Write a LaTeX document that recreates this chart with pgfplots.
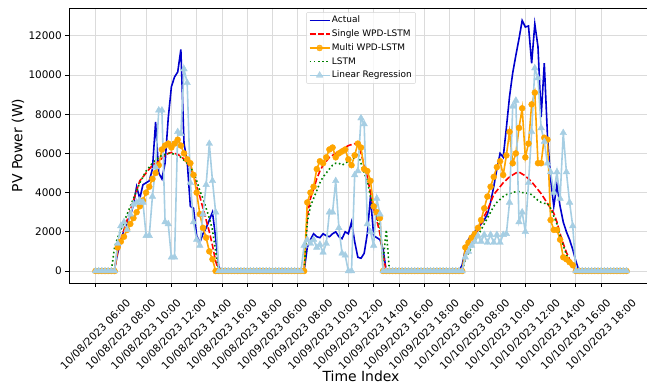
\documentclass[border=0pt]{standalone}
\usepackage{pgfplots}
\pgfplotsset{compat=1.18}
\usepackage{pgfplotstable}
\usepackage{fontspec}
\setmainfont{DejaVu Sans}
\definecolor{cA}{RGB}{0,0,205}
\definecolor{cS}{RGB}{255,0,0}
\definecolor{cM}{RGB}{255,165,0}
\definecolor{cL}{RGB}{0,128,0}
\definecolor{cR}{RGB}{166,206,227}
\pgfplotstableread{
u A S M L R
0 0 0 0 0 0
1 0 0 0 0 0
2 0 0 0 0 0
3 0 0 0 0 0
4 0 0 0 0 0
5 0 0 0 0 0
6 100 0 0 1200 0
7 900 1000 1200 1700 1400
8 1500 1600 1500 2100 2300
9 2100 2100 1750 2500 2500
10 2400 2600 2100 2900 2100
11 2800 3100 2400 3300 2900
12 3400 3600 2700 3700 3400
13 4300 4100 3000 4100 3500
14 3700 4600 3300 4500 3600
15 4400 4800 3600 4800 3500
16 4500 5000 4000 5100 1800
17 4600 5200 4300 5300 1800
18 5200 5400 4700 5500 3800
19 7600 5500 5000 5650 5300
20 5000 5600 5400 5800 8200
21 4700 5750 6200 5900 8200
22 5500 5900 6400 5950 2500
23 7800 6000 6500 6000 2400
24 9400 6050 6300 6000 700
25 9900 6000 6500 5950 700
26 10150 5950 6700 5900 7100
27 11300 5850 6400 5800 7000
28 6500 5700 6000 5650 10300
29 5600 5500 5700 5500 9600
30 3300 5300 5500 5300 4500
31 3200 4900 4900 5000 2500
32 1800 4300 4000 4600 1600
33 1450 3800 2900 4100 1300
34 1900 3200 2200 3700 2900
35 2200 2600 1700 3200 4400
36 2600 2000 1000 2700 6500
37 3000 1300 600 2100 4600
38 1700 500 0 1000 3000
39 200 0 0 0 0
40 0 0 0 0 0
41 0 0 0 0 0
42 0 0 0 0 0
43 0 0 0 0 0
44 0 0 0 0 0
45 0 0 0 0 0
46 0 0 0 0 0
47 0 0 0 0 0
48 0 0 0 0 0
49 0 0 0 0 0
50 0 0 0 0 0
51 0 0 0 0 0
52 0 0 0 0 0
53 0 0 0 0 0
54 0 0 0 0 0
55 0 0 0 0 0
56 0 0 0 0 0
57 0 0 0 0 0
58 0 0 0 0 0
59 0 0 0 0 0
60 0 0 0 0 0
61 0 0 0 0 0
62 0 0 0 0 0
63 0 0 0 0 0
64 0 0 0 0 0
65 0 0 0 0 0
66 0 0 0 0 1300
67 1200 2800 3500 2500 1600
68 1600 3700 4000 3300 1400
69 1900 4200 4300 3700 1600
70 1750 4700 5200 4100 1200
71 1700 5100 5600 4500 1350
72 1900 5400 5500 4800 950
73 1800 5600 5800 5000 1400
74 1750 5800 6200 5200 3000
75 1900 5900 6300 5400 3000
76 2000 6000 5800 5500 4600
77 1750 6100 6000 5500 2200
78 1650 6200 6100 5400 900
79 2000 6300 6200 5500 800
80 1900 6400 5700 5600 0
81 2500 6450 5400 5700 0
82 1500 6500 5900 5800 4900
83 700 6450 6500 6000 5100
84 650 6000 6300 5500 7800
85 900 5400 5200 5000 7500
86 1900 4800 5100 4600 2400
87 3800 4000 4600 3800 2000
88 1800 3200 3300 3100 1300
89 1700 2600 3000 2700 3700
90 1600 1900 2700 2300 2900
91 1100 800 0 500 0
92 0 0 0 2100 0
93 0 0 0 0 0
94 0 0 0 0 0
95 0 0 0 0 0
96 0 0 0 0 0
97 0 0 0 0 0
98 0 0 0 0 0
99 0 0 0 0 0
100 0 0 0 0 0
101 0 0 0 0 0
102 0 0 0 0 0
103 0 0 0 0 0
104 0 0 0 0 0
105 0 0 0 0 0
106 0 0 0 0 0
107 0 0 0 0 0
108 0 0 0 0 0
109 0 0 0 0 0
110 0 0 0 0 0
111 0 0 0 0 0
112 0 0 0 0 0
113 0 0 0 0 0
114 0 0 0 0 0
115 0 0 0 0 0
116 300 0 0 0 0
117 1100 700 1200 600 700
118 1600 1100 1450 900 1000
119 1800 1400 1700 1200 1300
120 2000 1700 1900 1500 1500
121 2200 2100 2200 1800 1800
122 2400 2400 2600 2100 1500
123 2600 2800 3200 2400 1850
124 2900 3100 3800 2700 1450
125 3500 3500 4300 3000 1850
126 4300 3900 4800 3300 1450
127 5200 4100 5300 3500 1850
128 6000 4300 5600 3650 1450
129 5800 4500 4900 3800 1850
130 7300 4650 5900 3900 1900
131 8900 4800 7100 3950 3500
132 10100 4900 5500 4000 8400
133 11000 5000 6000 4050 8700
134 11850 5050 7300 4050 2500
135 12780 4950 8300 4000 3000
136 12450 4850 5800 4000 2000
137 12500 4700 6500 3950 4500
138 10600 4550 8500 3900 7100
139 12600 4350 9100 3750 10350
140 11450 4150 5500 3600 9850
141 7850 3950 5500 3500 7300
142 10600 3700 6800 3450 6600
143 6900 3450 6700 3450 5500
144 4700 3200 2600 3200 5050
145 3300 2950 2100 2800 4000
146 4400 2500 2100 2400 5050
147 3300 1900 1600 1800 3700
148 2500 1400 700 1300 7050
149 2000 950 600 850 5050
150 1600 600 450 450 3500
151 1100 300 300 150 2300
152 500 0 0 0 0
153 0 0 0 0 0
154 0 0 0 0 0
155 0 0 0 0 0
156 0 0 0 0 0
157 0 0 0 0 0
158 0 0 0 0 0
159 0 0 0 0 0
160 0 0 0 0 0
161 0 0 0 0 0
162 0 0 0 0 0
163 0 0 0 0 0
164 0 0 0 0 0
165 0 0 0 0 0
166 0 0 0 0 0
167 0 0 0 0 0
168 0 0 0 0 0
}\datatable

\begin{document}
\begin{tikzpicture}
\begin{axis}[
  scale only axis, width=584bp, height=275bp,
  xmin=-8.4, xmax=176.4, ymin=-612, ymax=13418,
  axis line style={line width=0.8bp},
  xtick={0,8,...,160},
  xticklabels={10/08/2023 06:00,10/08/2023 08:00,10/08/2023 10:00,10/08/2023 12:00,10/08/2023 14:00,10/08/2023 16:00,10/08/2023 18:00,10/09/2023 06:00,10/09/2023 08:00,10/09/2023 10:00,10/09/2023 12:00,10/09/2023 14:00,10/09/2023 16:00,10/09/2023 18:00,10/10/2023 06:00,10/10/2023 08:00,10/10/2023 10:00,10/10/2023 12:00,10/10/2023 14:00,10/10/2023 16:00,10/10/2023 18:00},
  ytick={0,2000,...,12000},
  scaled y ticks=false,
  tick align=outside, xtick pos=bottom, ytick pos=left,
  major tick length=3.7bp,
  every tick/.style={black, line width=0.8bp},
  grid=major, grid style={gray!28, line width=0.8bp},
  /pgf/number format/1000 sep={},
  /pgf/number format/assume math mode=true,
  tick label style={font=\fontsize{10.5}{12}\selectfont},
  x tick label style={yshift=-48bp, rotate=45, anchor=center},
  xlabel={Time Index}, ylabel={PV Power (W)},
  label style={font=\fontsize{14}{16}\selectfont},
  xlabel style={at={(axis description cs:0.5,-0.338)}, anchor=center},
  ylabel style={at={(axis description cs:-0.0873,0.5)}, anchor=center},
  legend style={at={(axis description cs:0.5,0.985)}, anchor=north,
    font=\fontsize{9}{10.5}\selectfont, draw=gray!35,
    rounded corners=2bp, fill=white, fill opacity=0.8, text opacity=1,
    inner xsep=2.5bp, inner ysep=2.5bp, row sep=2.2bp,
    nodes={inner sep=1.5bp, text height=6.6bp, text depth=1.9bp}},
  legend cell align=left,
  legend image post style={line width=1.6bp},
  legend image code/.code={\draw[mark repeat=2, mark phase=2] plot coordinates {(0bp,0bp) (10bp,0bp) (20bp,0bp)};},
]
\coordinate (SW) at (rel axis cs:0,0);
\addplot[cA, line width=1.6bp] table[x=u,y=A]{\datatable};
\addlegendentry{Actual}
\addplot[cS, line width=1.6bp, dash pattern=on 5.9bp off 2.5bp] table[x=u,y=S]{\datatable};
\addlegendentry{Single WPD-LSTM}
\addplot[cM, line width=1.6bp, mark=*, mark size=3bp, mark options={solid, fill=cM, draw=cM, line width=0.4bp}] table[x=u,y=M]{\datatable};
\addlegendentry{Multi WPD-LSTM}
\addplot[cL, line width=1.6bp, dash pattern=on 1.6bp off 2.6bp] table[x=u,y=L]{\datatable};
\addlegendentry{LSTM}
\addplot[cR, line width=1.6bp, mark=triangle*, mark size=3.8bp, mark options={solid, fill=cR, draw=cR, line width=0.4bp}] table[x=u,y=R]{\datatable};
\addlegendentry{Linear Regression}
\end{axis}
\pgfresetboundingbox
\path[use as bounding box] ([shift={(-69bp,-101bp)}]SW) rectangle ([shift={(578bp,283bp)}]SW);
\end{tikzpicture}
\end{document}
